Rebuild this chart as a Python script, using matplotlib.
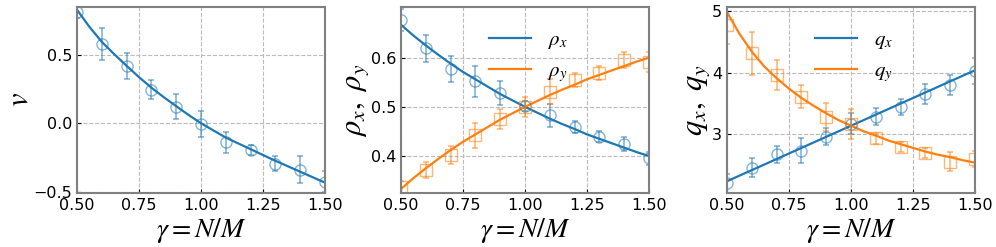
import numpy as np
import matplotlib
matplotlib.use('Agg')
import matplotlib.pyplot as plt

plt.rcParams['mathtext.fontset'] = 'stix'

# measured points (gamma = N/M)
gamma = [0.5, 0.6, 0.7, 0.8, 0.9, 1.0, 1.1, 1.2, 1.3, 1.4, 1.5]

v_pts = [0.817, 0.578, 0.415, 0.244, 0.122, -0.005, -0.141, -0.195, -0.298, -0.341, -0.427]
v_err = [0.045, 0.116, 0.095, 0.07, 0.09, 0.095, 0.08, 0.035, 0.055, 0.10, 0.08]

rhox_pts = [0.676, 0.619, 0.577, 0.552, 0.528, 0.501, 0.483, 0.459, 0.439, 0.424, 0.395]
rhox_err = [0.022, 0.027, 0.027, 0.032, 0.025, 0.010, 0.023, 0.013, 0.011, 0.014, 0.014]
rhoy_pts = [0.337, 0.371, 0.402, 0.442, 0.475, 0.500, 0.531, 0.554, 0.569, 0.595, 0.591]
rhoy_err = [0.012, 0.016, 0.019, 0.025, 0.020, 0.020, 0.026, 0.014, 0.015, 0.016, 0.021]

qx_pts = [2.205, 2.46, 2.676, 2.735, 2.962, 3.168, 3.286, 3.449, 3.654, 3.80, 4.03]
qx_err = [0.15, 0.15, 0.14, 0.20, 0.14, 0.17, 0.14, 0.13, 0.16, 0.17, 0.21]
qy_pts = [4.773, 4.313, 3.962, 3.61, 3.286, 3.168, 2.935, 2.80, 2.703, 2.557, 2.595]
qy_err = [0.30, 0.35, 0.25, 0.19, 0.23, 0.25, 0.09, 0.08, 0.08, 0.15, 0.13]

# theory curves
g_line = [0.5, 0.55, 0.6, 0.65, 0.7, 0.75, 0.8, 0.85, 0.9, 0.95, 1.0,
          1.05, 1.1, 1.15, 1.2, 1.25, 1.3, 1.35, 1.4, 1.45, 1.5]
v_line = [0.83, 0.705, 0.595, 0.505, 0.42, 0.337, 0.26, 0.19, 0.125, 0.06, 0.0,
          -0.053, -0.105, -0.148, -0.19, -0.233, -0.275, -0.315, -0.355, -0.395, -0.435]
rhox_line = [0.667, 0.645, 0.625, 0.606, 0.588, 0.571, 0.556, 0.541, 0.526, 0.513, 0.5,
             0.488, 0.476, 0.465, 0.455, 0.444, 0.435, 0.426, 0.417, 0.408, 0.4]
rhoy_line = [0.333, 0.355, 0.375, 0.394, 0.412, 0.429, 0.444, 0.459, 0.474, 0.487, 0.5,
             0.512, 0.524, 0.535, 0.545, 0.556, 0.565, 0.574, 0.583, 0.592, 0.6]
qx_line = [2.24, 2.33, 2.42, 2.51, 2.60, 2.69, 2.78, 2.87, 2.96, 3.05, 3.14,
           3.23, 3.32, 3.41, 3.50, 3.59, 3.68, 3.77, 3.86, 3.95, 4.04]
qy_line = [4.98, 4.63, 4.34, 4.10, 3.91, 3.74, 3.59, 3.46, 3.34, 3.23, 3.14,
           3.05, 2.98, 2.90, 2.84, 2.78, 2.72, 2.67, 2.63, 2.58, 2.54]

blue = '#1f77b4'
orange = '#ff7f0e'

fig = plt.figure(figsize=(9.96, 2.47), dpi=100)
lefts = [0.0773, 0.4026, 0.730]
axes = [fig.add_axes([l, 0.219, 0.249, 0.7526]) for l in lefts]


def style(ax):
    ax.set_xlim(0.5, 1.5)
    ax.set_xticks([0.5, 0.75, 1.0, 1.25, 1.5])
    ax.set_xticklabels(['0.50', '0.75', '1.00', '1.25', '1.50'])
    ax.grid(True, ls='--', color='#bbbbbb', lw=0.8)
    ax.tick_params(direction='in', labelsize=11.5, length=3)
    for s in ax.spines.values():
        s.set_color('#808080')
        s.set_linewidth(1.5)
    ax.set_xlabel(r'$\gamma=N/M$', fontsize=20, labelpad=2)


def points(ax, y, e, color, marker):
    ax.errorbar(gamma, y, yerr=e, fmt=marker, color=color, mfc='none',
                ms=8, capsize=2.5, elinewidth=1.2, capthick=1.2, alpha=0.55)


ax = axes[0]
ax.plot(g_line, v_line, color=blue, lw=1.6)
points(ax, v_pts, v_err, blue, 'o')
style(ax)
ax.set_ylim(-0.51, 0.85)
ax.set_yticks([-0.5, 0.0, 0.5])
ax.set_ylabel(r'$v$', fontsize=22, labelpad=0)

ax = axes[1]
ax.plot(g_line, rhox_line, color=blue, lw=1.6, label=r'$\rho_x$')
ax.plot(g_line, rhoy_line, color=orange, lw=1.6, label=r'$\rho_y$')
points(ax, rhox_pts, rhox_err, blue, 'o')
points(ax, rhoy_pts, rhoy_err, orange, 's')
style(ax)
ax.set_ylim(0.325, 0.703)
ax.set_yticks([0.4, 0.5, 0.6])
ax.set_ylabel(r'$\rho_x,\ \rho_y$', fontsize=22, labelpad=0)
ax.legend(loc='upper left', bbox_to_anchor=(0.28, 0.98), frameon=False,
          fontsize=15, handlelength=2.0, handletextpad=0.8, labelspacing=0.4)

ax = axes[2]
ax.plot(g_line, qx_line, color=blue, lw=1.6, label=r'$q_x$')
ax.plot(g_line, qy_line, color=orange, lw=1.6, label=r'$q_y$')
points(ax, qx_pts, qx_err, blue, 'o')
points(ax, qy_pts, qy_err, orange, 's')
style(ax)
ax.set_ylim(2.05, 5.065)
ax.set_yticks([3, 4, 5])
ax.set_ylabel(r'$q_x,\ q_y$', fontsize=22, labelpad=0)
ax.legend(loc='upper left', bbox_to_anchor=(0.28, 0.98), frameon=False,
          fontsize=15, handlelength=2.0, handletextpad=0.8, labelspacing=0.4)

fig.savefig('out.png', dpi=100)
